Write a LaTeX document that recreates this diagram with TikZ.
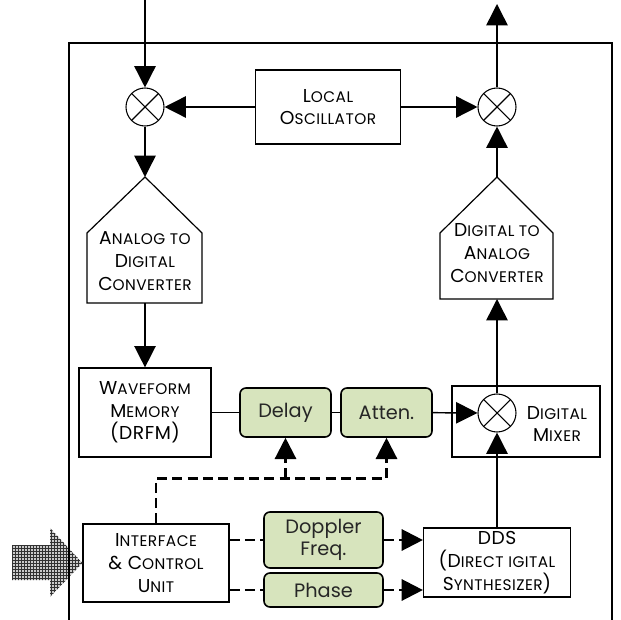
\documentclass[tikz,border=0pt]{standalone}
\usepackage{fontspec}
\setmainfont{Poppins}
\usetikzlibrary{arrows.meta,positioning,patterns}
\definecolor{tunefill}{HTML}{D7E4BD}
\definecolor{tunetext}{HTML}{262626}
% lower-case letters set as small capitals
\newcommand\scl[1]{{\fontsize{11.5}{17}\selectfont\uppercase{#1}}}
% close-meshed grid for the host input arrow
\pgfdeclarepatternformonly{finegrid}{\pgfqpoint{-0.5pt}{-0.5pt}}{\pgfqpoint{2.75pt}{2.75pt}}{\pgfqpoint{2.25pt}{2.25pt}}{%
  \pgfsetlinewidth{0.55pt}%
  \pgfpathmoveto{\pgfqpoint{0pt}{0pt}}\pgfpathlineto{\pgfqpoint{2.25pt}{0pt}}%
  \pgfpathmoveto{\pgfqpoint{0pt}{0pt}}\pgfpathlineto{\pgfqpoint{0pt}{2.25pt}}%
  \pgfusepath{stroke}}

\begin{document}
\begin{tikzpicture}[x=0.75pt,y=-0.75pt,
    blk/.style={draw,line width=0.9pt,align=center,inner sep=0pt,font=\fontsize{14}{17}\selectfont\addfontfeatures{LetterSpace=3}},
    lbl/.style={align=center,inner sep=0pt,font=\fontsize{14}{17}\selectfont\addfontfeatures{LetterSpace=3}},
    tune/.style={draw,line width=1.2pt,rounded corners=4.5pt,fill=tunefill,text=tunetext,align=center,
      inner sep=0pt,minimum width=68.25pt,font=\fontsize{14.5}{17}\selectfont},
    mix/.style={circle,draw,line width=0.8pt,minimum size=28.5pt,inner sep=0pt,fill=white,
      path picture={\draw[line width=0.8pt] (path picture bounding box.north west) -- (path picture bounding box.south east)
        (path picture bounding box.south west) -- (path picture bounding box.north east);}},
    sig/.style={line width=1.1pt,-{Triangle[length=16pt,width=16pt]}},
    ctl/.style={sig,line width=1.8pt,dash pattern=on 7.5pt off 4pt}]
  \useasboundingbox (0,0) rectangle (621,620);

  % blocks
  \node[blk,minimum width=99pt,minimum height=66.75pt] (wf) at (145,412.5) {W\scl{aveform}\\M\scl{emory}\\(DRFM)};
  \node[blk,minimum width=109.5pt,minimum height=58.5pt] (intf) at (156,563) {I\scl{nterface}\\\& C\scl{ontrol}\\U\scl{nit}};

  % host input arrow
  \fill[gray!40] (12,545) -- (50,545) -- (50,528) -- (intf.west) -- (50,597) -- (50,580) -- (12,580) -- cycle;
  \fill[pattern=finegrid,pattern color=black!80] (12,545) -- (50,545) -- (50,528) -- (intf.west) -- (50,597) -- (50,580) -- (12,580) -- cycle;

  % outer frame, open at the bottom
  \draw[line width=0.8pt] (69,620) -- (69,43) -- (612,43) -- (612,620);

  % RF side
  \node[mix] (mixin) at (145,107) {};
  \node[mix] (mixout) at (497,107) {};
  \node[blk,minimum width=108.75pt,minimum height=55.5pt] (lo) at (328,107) {L\scl{ocal}\\O\scl{scillator}};
  \coordinate (rfin) at (145,0);
  \coordinate (rfout) at (497,4);

  % converters
  \node[lbl] (adc) at (145,261) {A\scl{nalog to}\\D\scl{igital}\\C\scl{onverter}};
  \draw[line width=0.9pt] (87,303) -- (87,233) -- (145,177) coordinate (adctop) -- (202,233) -- (202,303) -- cycle;
  \coordinate (adcbot) at (145,303);
  \node[lbl] (dac) at (497,253) {D\scl{igital to}\\A\scl{nalog}\\C\scl{onverter}};
  \draw[line width=0.9pt] (440,299) -- (440,233) -- (497,177) coordinate (dactop) -- (553,233) -- (553,299) -- cycle;
  \coordinate (dacbot) at (497,299);

  % baseband chain
  \node[tune,minimum height=36.75pt] (delay) at (285.5,412.5) {Delay};
  \node[tune,minimum height=36.75pt] (atten) at (386.5,412.5) {Atten.};
  \node[blk,minimum width=111pt,minimum height=53.25pt] (dmixbox) at (526,421.5) {};
  \node[mix] (dmix) at (497,413) {};
  \node[lbl] (dmixlbl) at (557,424) {D\scl{igital}\\M\scl{ixer}};

  % control
  \node[tune,minimum width=89.25pt,minimum height=42pt] (dop) at (323.5,540) {Doppler\\Freq.};
  \node[tune,minimum width=89.25pt,minimum height=25.5pt] (phase) at (323.5,590) {Phase};
  \node[blk,minimum width=110.25pt,minimum height=51.75pt] (dds) at (497,562.5) {DDS\\(D\scl{irect igital}\\S\scl{ynthesizer})};

  % signal path
  \draw[sig] (rfin) -- (mixin);
  \draw[sig] (lo) -- (mixin);
  \draw[sig] (lo) -- (mixout);
  \draw[sig] (mixout) -- (rfout);
  \draw[sig] (mixin) -- (adctop);
  \draw[sig] (adcbot) -- (wf);
  \draw[line width=1.1pt] (wf) -- (delay) (delay) -- (atten);
  \draw[sig] (atten) -- (dmix);
  \draw[sig] (dmix) -- (dacbot);
  \draw[sig] (dactop) -- (mixout);
  \draw[sig] (dds) -- (dmix);

  % control lines
  \draw[ctl] (intf.north) -- ++(0,-45) coordinate (bus) -| (atten);
  \draw[ctl] (delay |- bus) -- (delay);
  \draw[ctl,-] (intf.east |- dop) -- (dop);
  \draw[ctl] (dop) -- (dds.west |- dop);
  \draw[ctl,-] (intf.east |- phase) -- (phase);
  \draw[ctl] (phase) -- (dds.west |- phase);
\end{tikzpicture}
\end{document}
